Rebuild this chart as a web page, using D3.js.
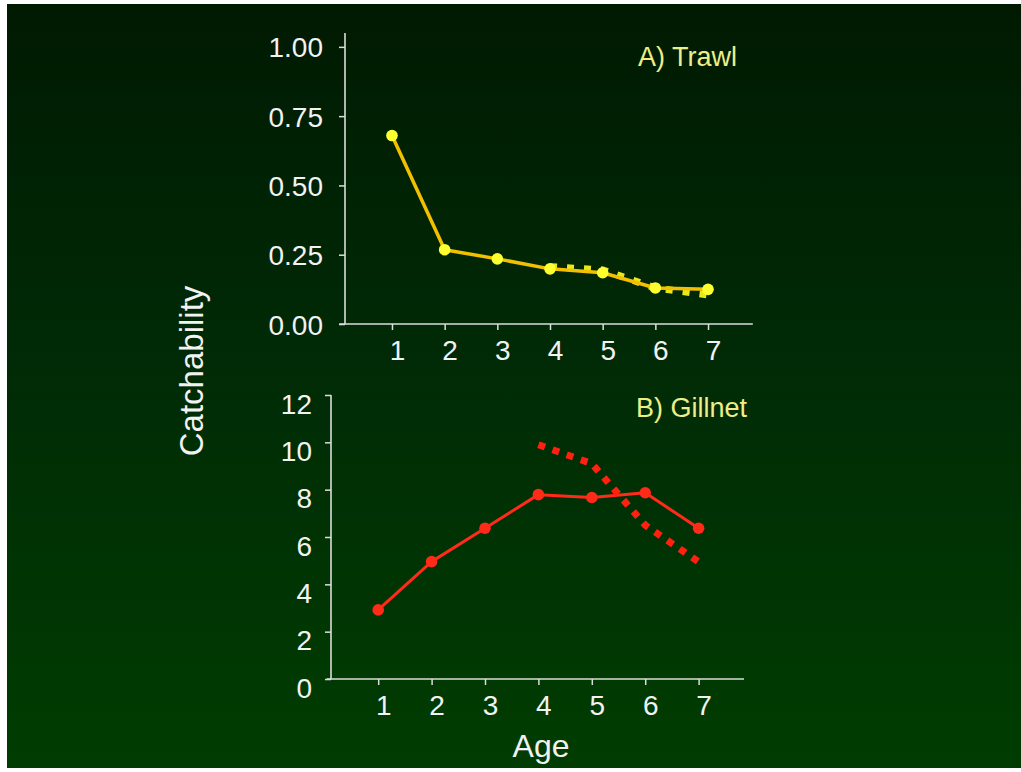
<!DOCTYPE html>
<html>
<head>
<meta charset="utf-8">
<script src="https://cdn.jsdelivr.net/npm/d3@7"></script>
<style>
html,body{margin:0;padding:0;background:#ffffff;}
svg{display:block;}
text{font-family:"Liberation Sans",Arial,sans-serif;}
</style>
</head>
<body>
<svg id="chart" width="1021" height="772"></svg>
<script>
// ---- data ----
const ages = [1, 2, 3, 4, 5, 6, 7];
const trawlSolid = [0.68, 0.268, 0.235, 0.199, 0.185, 0.13, 0.125];
const trawlDashedAges = [4, 5, 6, 7];
const trawlDashed = [0.207, 0.195, 0.13, 0.105];
const gillnetSolid = [2.92, 4.96, 6.37, 7.79, 7.67, 7.87, 6.37];
const gillnetDashedAges = [4, 5, 6, 7];
const gillnetDashed = [9.9, 9.1, 6.5, 4.95];
const trawlTicks = [0, 0.25, 0.5, 0.75, 1.0];
const trawlTickLabels = ["0.00", "0.25", "0.50", "0.75", "1.00"];
const gillnetTicks = [0, 2, 4, 6, 8, 10, 12];
const panelTitles = ["A) Trawl", "B) Gillnet"];
const xTitle = "Age";
const yTitle = "Catchability";

const svg = d3.select("#chart");

// background
const defs = svg.append("defs");
const grad = defs.append("linearGradient").attr("id", "bg").attr("x1", 0).attr("y1", 0).attr("x2", 0).attr("y2", 1);
grad.append("stop").attr("offset", "0%").attr("stop-color", "#001a02");
grad.append("stop").attr("offset", "45%").attr("stop-color", "#002a06");
grad.append("stop").attr("offset", "100%").attr("stop-color", "#003d01");
svg.append("rect").attr("x", 7).attr("y", 4).attr("width", 1014).attr("height", 764).attr("fill", "url(#bg)");

const axisColor = "#dcdcdc";
const labelColor = "#f2f2f2";
const titleColor = "#eeee88";

function panel(opts) {
  const x = d3.scaleLinear().domain([0, 7.85]).range(opts.xRange);
  const y = d3.scaleLinear().domain(opts.yDomain).range(opts.yRange);
  const g = svg.append("g");

  // y axis
  const ya = g.append("g").attr("transform", `translate(${opts.xRange[0] + opts.yAxisShift},0)`)
    .call(d3.axisLeft(y).tickValues(opts.yTicks).tickSize(6).tickFormat((d, i) => opts.yLabels[i]));
  ya.select(".domain").attr("stroke", axisColor).attr("stroke-width", 1.6)
    .attr("d", `M0,${y(opts.yDomain[1])}V${y(0)}`);
  ya.selectAll(".tick line").attr("stroke", axisColor).attr("stroke-width", 1.5);
  ya.selectAll(".tick text").attr("fill", labelColor).attr("font-size", opts.fs)
    .attr("x", -opts.yLabelGap).attr("dy", null).attr("y", opts.yLabelDy)
    .attr("dominant-baseline", "auto");

  // x axis
  const xa = g.append("g").attr("transform", `translate(0,${y(0)})`)
    .call(d3.axisBottom(x).tickValues(ages).tickSize(6).tickFormat(d3.format("d")));
  xa.select(".domain").attr("stroke", axisColor).attr("stroke-width", 1.6)
    .attr("d", `M${opts.xRange[0] + opts.xAxisStart},0H${opts.xRange[1]}`);
  xa.selectAll(".tick line").attr("stroke", axisColor).attr("stroke-width", 1.5);
  xa.selectAll(".tick text").attr("fill", labelColor).attr("font-size", opts.fs)
    .attr("dy", null).attr("y", opts.xLabelY).attr("x", 5).attr("dominant-baseline", "auto");
  g.selectAll(".tick text").attr("font-family", "'Liberation Sans',Arial,sans-serif");

  const line = d3.line().x(d => x(d[0])).y(d => y(d[1]));
  const solidPts = ages.map((a, i) => [a, opts.solid[i]]);
  const dashPts = opts.dashAges.map((a, i) => [a, opts.dashed[i]]);

  const drawDashed = () => g.append("path").datum(dashPts).attr("d", line)
    .attr("fill", "none").attr("stroke", opts.dashColor).attr("stroke-width", 7)
    .attr("stroke-dasharray", opts.dashArray);

  if (!opts.dashOnTop) drawDashed();
  g.append("path").datum(solidPts).attr("d", line)
    .attr("fill", "none").attr("stroke", opts.lineColor).attr("stroke-width", opts.lineWidth)
    .attr("stroke-linejoin", "round");
  g.selectAll("circle.pt").data(solidPts).join("circle").attr("class", "pt")
    .attr("cx", d => x(d[0])).attr("cy", d => y(d[1])).attr("r", 5.8).attr("fill", opts.markerColor);
  if (opts.dashOnTop) drawDashed();

  g.append("text").attr("x", opts.titlePos[0]).attr("y", opts.titlePos[1])
    .attr("text-anchor", "end").attr("fill", titleColor).attr("font-size", 27).text(opts.title);
}

panel({
  xRange: [339.3, 752.8], yDomain: [0, 1.05], yRange: [324, 33],
  yTicks: trawlTicks, yLabels: trawlTickLabels, yAxisShift: 5.7, xAxisStart: 0,
  yLabelGap: 22, yLabelDy: 10, xLabelY: 36, fs: 28,
  solid: trawlSolid, dashAges: trawlDashedAges, dashed: trawlDashed,
  lineColor: "#f2c000", lineWidth: 3.5, markerColor: "#ffff30",
  dashColor: "#e8e81c", dashArray: "7,10", dashOnTop: false,
  title: panelTitles[0], titlePos: [737, 66]
});

panel({
  xRange: [324.8, 744], yDomain: [0, 12], yRange: [679, 395],
  yTicks: gillnetTicks, yLabels: gillnetTicks.map(String), yAxisShift: 6.2, xAxisStart: 2,
  yLabelGap: 19, yLabelDy: 18, xLabelY: 36, fs: 28,
  solid: gillnetSolid, dashAges: gillnetDashedAges, dashed: gillnetDashed,
  lineColor: "#ff2a18", lineWidth: 3, markerColor: "#ff2a18",
  dashColor: "#ff2010", dashArray: "7,8", dashOnTop: true,
  title: panelTitles[1], titlePos: [747, 417]
});

// axis titles
svg.append("text").attr("transform", "translate(203,371) rotate(-90)")
  .attr("text-anchor", "middle").attr("fill", labelColor).attr("font-size", 33).text(yTitle);
svg.append("text").attr("x", 541).attr("y", 757)
  .attr("text-anchor", "middle").attr("fill", labelColor).attr("font-size", 32).text(xTitle);
</script>
</body>
</html>
